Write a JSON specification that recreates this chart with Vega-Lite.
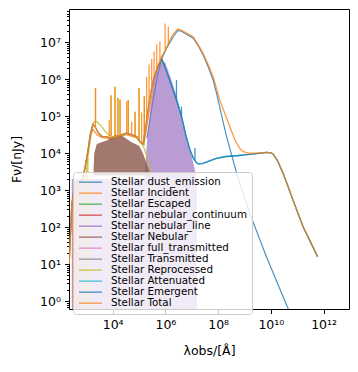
{
  "$schema": "https://vega.github.io/schema/vega-lite/v6.json",
  "width": 280,
  "height": 300,
  "autosize": {"type": "none"},
  "padding": {"left": 69, "top": 9, "right": 9, "bottom": 63},
  "background": "white",
  "datasets": {
    "lines": [
      {"s":"Stellar dust_emission","x":199500,"y":25120},{"s":"Stellar dust_emission","x":316200,"y":199500},{"s":"Stellar dust_emission","x":501200,"y":1259000},{"s":"Stellar dust_emission","x":724400,"y":3548000},{"s":"Stellar dust_emission","x":1122000,"y":7079000},{"s":"Stellar dust_emission","x":1995000,"y":14130000},{"s":"Stellar dust_emission","x":2951000,"y":20890000},{"s":"Stellar dust_emission","x":3981000,"y":19950000},{"s":"Stellar dust_emission","x":6310000,"y":16600000},{"s":"Stellar dust_emission","x":11220000,"y":12880000},{"s":"Stellar dust_emission","x":17780000,"y":7943000},{"s":"Stellar dust_emission","x":26920000,"y":4571000},{"s":"Stellar dust_emission","x":41690000,"y":2188000},{"s":"Stellar dust_emission","x":64570000,"y":955000},{"s":"Stellar dust_emission","x":87100000,"y":416900},{"s":"Stellar dust_emission","x":199500000,"y":31620},{"s":"Stellar dust_emission","x":501200000,"y":2884},{"s":"Stellar dust_emission","x":1585000000,"y":234.4},{"s":"Stellar dust_emission","x":6761000000,"y":15.85},{"s":"Stellar dust_emission","x":44670000000,"y":0.631},{"s":"Stellar dust_emission","x":100000000000,"y":0.1585},

      {"s":"Stellar Incident","x":223.9,"y":10},{"s":"Stellar Incident","x":281.8,"y":398.1},{"s":"Stellar Incident","x":354.8,"y":1259},{"s":"Stellar Incident","x":501.2,"y":1585},{"s":"Stellar Incident","x":707.9,"y":1995},{"s":"Stellar Incident","x":891.3,"y":3981},{"s":"Stellar Incident","x":1122,"y":10000},{"s":"Stellar Incident","x":1413,"y":28180},{"s":"Stellar Incident","x":1778,"y":44670},{"s":"Stellar Incident","x":2512,"y":31620},{"s":"Stellar Incident","x":3981,"y":26300},{"s":"Stellar Incident","x":10000,"y":23990},{"s":"Stellar Incident","x":31620,"y":31620},{"s":"Stellar Incident","x":79430,"y":26300},{"s":"Stellar Incident","x":125900,"y":17780},{"s":"Stellar Incident","x":158500,"y":19950},{"s":"Stellar Incident","x":251200,"y":158500},{"s":"Stellar Incident","x":398100,"y":1259000},{"s":"Stellar Incident","x":724400,"y":3548000},{"s":"Stellar Incident","x":955000,"y":2239000},

      {"s":"Stellar Reprocessed","x":794.3,"y":1259},{"s":"Stellar Reprocessed","x":1000,"y":3162},{"s":"Stellar Reprocessed","x":1259,"y":12590},{"s":"Stellar Reprocessed","x":1585,"y":39810},{"s":"Stellar Reprocessed","x":1995,"y":70790},{"s":"Stellar Reprocessed","x":2512,"y":70790},{"s":"Stellar Reprocessed","x":3548,"y":56230},{"s":"Stellar Reprocessed","x":5012,"y":39810},{"s":"Stellar Reprocessed","x":7079,"y":31620},{"s":"Stellar Reprocessed","x":10000,"y":28180},{"s":"Stellar Reprocessed","x":14130,"y":26920},{"s":"Stellar Reprocessed","x":22390,"y":31620},{"s":"Stellar Reprocessed","x":33880,"y":34670},{"s":"Stellar Reprocessed","x":50120,"y":31620},{"s":"Stellar Reprocessed","x":81280,"y":28180},{"s":"Stellar Reprocessed","x":112200,"y":19950},{"s":"Stellar Reprocessed","x":144500,"y":15850},{"s":"Stellar Reprocessed","x":199500,"y":7943},{"s":"Stellar Reprocessed","x":316200,"y":1995},{"s":"Stellar Reprocessed","x":467700,"y":631},{"s":"Stellar Reprocessed","x":631000,"y":63.1},{"s":"Stellar Reprocessed","x":758600,"y":0.3162},

      {"s":"Stellar Attenuated","x":724400,"y":3548000},{"s":"Stellar Attenuated","x":1000000,"y":1995000},{"s":"Stellar Attenuated","x":1585000,"y":794300},{"s":"Stellar Attenuated","x":2630000,"y":275400},{"s":"Stellar Attenuated","x":4074000,"y":100000},{"s":"Stellar Attenuated","x":5623000,"y":35480},{"s":"Stellar Attenuated","x":8511000,"y":12300},{"s":"Stellar Attenuated","x":11220000,"y":7586},{"s":"Stellar Attenuated","x":15140000,"y":5495},{"s":"Stellar Attenuated","x":17780000,"y":5129},{"s":"Stellar Attenuated","x":25120000,"y":5248},{"s":"Stellar Attenuated","x":50120000,"y":6310},{"s":"Stellar Attenuated","x":87100000,"y":7244},{"s":"Stellar Attenuated","x":199500000,"y":8128},{"s":"Stellar Attenuated","x":501200000,"y":8511},{"s":"Stellar Attenuated","x":1259000000,"y":9120},{"s":"Stellar Attenuated","x":2818000000,"y":9661},{"s":"Stellar Attenuated","x":5012000000,"y":10230},{"s":"Stellar Attenuated","x":6761000000,"y":10470},{"s":"Stellar Attenuated","x":10000000000,"y":10230},{"s":"Stellar Attenuated","x":12020000000,"y":9550},{"s":"Stellar Attenuated","x":17780000000,"y":6310},{"s":"Stellar Attenuated","x":28840000000,"y":2884},{"s":"Stellar Attenuated","x":44670000000,"y":1259},{"s":"Stellar Attenuated","x":69180000000,"y":537},{"s":"Stellar Attenuated","x":107200000000,"y":234.4},{"s":"Stellar Attenuated","x":166000000000,"y":102.3},{"s":"Stellar Attenuated","x":316200000000,"y":39.81},{"s":"Stellar Attenuated","x":588800000000,"y":15.85},

      {"s":"Stellar Emergent","x":223.9,"y":10},{"s":"Stellar Emergent","x":281.8,"y":398.1},{"s":"Stellar Emergent","x":354.8,"y":1259},{"s":"Stellar Emergent","x":501.2,"y":1585},{"s":"Stellar Emergent","x":707.9,"y":1995},{"s":"Stellar Emergent","x":891.3,"y":3981},{"s":"Stellar Emergent","x":1122,"y":10000},{"s":"Stellar Emergent","x":1413,"y":31620},{"s":"Stellar Emergent","x":1778,"y":60260},{"s":"Stellar Emergent","x":2239,"y":50120},{"s":"Stellar Emergent","x":2818,"y":35480},{"s":"Stellar Emergent","x":3981,"y":28180},{"s":"Stellar Emergent","x":5888,"y":28180},{"s":"Stellar Emergent","x":8913,"y":25120},{"s":"Stellar Emergent","x":14130,"y":26300},{"s":"Stellar Emergent","x":22390,"y":31620},{"s":"Stellar Emergent","x":33880,"y":34670},{"s":"Stellar Emergent","x":50120,"y":31620},{"s":"Stellar Emergent","x":81280,"y":28180},{"s":"Stellar Emergent","x":112200,"y":19950},{"s":"Stellar Emergent","x":144500,"y":17780},{"s":"Stellar Emergent","x":177800,"y":50120},{"s":"Stellar Emergent","x":223900,"y":158500},{"s":"Stellar Emergent","x":281800,"y":446700},{"s":"Stellar Emergent","x":354800,"y":1000000},{"s":"Stellar Emergent","x":501200,"y":1995000},{"s":"Stellar Emergent","x":724400,"y":3548000},{"s":"Stellar Emergent","x":1000000,"y":1995000},{"s":"Stellar Emergent","x":1585000,"y":794300},{"s":"Stellar Emergent","x":2630000,"y":275400},{"s":"Stellar Emergent","x":4074000,"y":100000},{"s":"Stellar Emergent","x":5623000,"y":35480},{"s":"Stellar Emergent","x":8511000,"y":12300},{"s":"Stellar Emergent","x":11220000,"y":7586},{"s":"Stellar Emergent","x":15140000,"y":5495},{"s":"Stellar Emergent","x":17780000,"y":5129},{"s":"Stellar Emergent","x":25120000,"y":5248},{"s":"Stellar Emergent","x":50120000,"y":6310},{"s":"Stellar Emergent","x":87100000,"y":7244},{"s":"Stellar Emergent","x":199500000,"y":8128},{"s":"Stellar Emergent","x":501200000,"y":8511},{"s":"Stellar Emergent","x":1259000000,"y":9120},{"s":"Stellar Emergent","x":2818000000,"y":9661},{"s":"Stellar Emergent","x":5012000000,"y":10230},{"s":"Stellar Emergent","x":6761000000,"y":10470},{"s":"Stellar Emergent","x":10000000000,"y":10230},{"s":"Stellar Emergent","x":12020000000,"y":9550},{"s":"Stellar Emergent","x":17780000000,"y":6310},{"s":"Stellar Emergent","x":28840000000,"y":2884},{"s":"Stellar Emergent","x":44670000000,"y":1259},{"s":"Stellar Emergent","x":69180000000,"y":537},{"s":"Stellar Emergent","x":107200000000,"y":234.4},{"s":"Stellar Emergent","x":166000000000,"y":102.3},{"s":"Stellar Emergent","x":316200000000,"y":39.81},{"s":"Stellar Emergent","x":588800000000,"y":15.85},

      {"s":"Stellar Total","x":223.9,"y":10},{"s":"Stellar Total","x":281.8,"y":398.1},{"s":"Stellar Total","x":354.8,"y":1259},{"s":"Stellar Total","x":501.2,"y":1585},{"s":"Stellar Total","x":707.9,"y":1995},{"s":"Stellar Total","x":891.3,"y":3981},{"s":"Stellar Total","x":1122,"y":10000},{"s":"Stellar Total","x":1413,"y":31620},{"s":"Stellar Total","x":1778,"y":60260},{"s":"Stellar Total","x":2239,"y":50120},{"s":"Stellar Total","x":2818,"y":35480},{"s":"Stellar Total","x":3981,"y":28180},{"s":"Stellar Total","x":5888,"y":28180},{"s":"Stellar Total","x":8913,"y":25120},{"s":"Stellar Total","x":14130,"y":26300},{"s":"Stellar Total","x":22390,"y":31620},{"s":"Stellar Total","x":33880,"y":34670},{"s":"Stellar Total","x":50120,"y":31620},{"s":"Stellar Total","x":81280,"y":28180},{"s":"Stellar Total","x":112200,"y":19950},{"s":"Stellar Total","x":144500,"y":17780},{"s":"Stellar Total","x":177800,"y":50120},{"s":"Stellar Total","x":223900,"y":158500},{"s":"Stellar Total","x":281800,"y":446700},{"s":"Stellar Total","x":354800,"y":1000000},{"s":"Stellar Total","x":501200,"y":2239000},{"s":"Stellar Total","x":724400,"y":4169000},{"s":"Stellar Total","x":1000000,"y":6026000},{"s":"Stellar Total","x":1259000,"y":8913000},{"s":"Stellar Total","x":1585000,"y":12590000},{"s":"Stellar Total","x":1995000,"y":16600000},{"s":"Stellar Total","x":2951000,"y":22910000},{"s":"Stellar Total","x":3981000,"y":21380000},{"s":"Stellar Total","x":6310000,"y":17780000},{"s":"Stellar Total","x":11220000,"y":14130000},{"s":"Stellar Total","x":17780000,"y":8511000},{"s":"Stellar Total","x":26920000,"y":5012000},{"s":"Stellar Total","x":41690000,"y":2512000},{"s":"Stellar Total","x":64570000,"y":1175000},{"s":"Stellar Total","x":114800000,"y":275400},{"s":"Stellar Total","x":177800000,"y":120200},{"s":"Stellar Total","x":275400000,"y":52480},{"s":"Stellar Total","x":380200000,"y":28840},{"s":"Stellar Total","x":501200000,"y":18620},{"s":"Stellar Total","x":676100000,"y":13180},{"s":"Stellar Total","x":891300000,"y":10960},{"s":"Stellar Total","x":1413000000,"y":10000},{"s":"Stellar Total","x":2138000000,"y":10000},{"s":"Stellar Total","x":3981000000,"y":10230},{"s":"Stellar Total","x":6761000000,"y":10470},{"s":"Stellar Total","x":10000000000,"y":10230},{"s":"Stellar Total","x":12020000000,"y":9550},{"s":"Stellar Total","x":17780000000,"y":6310},{"s":"Stellar Total","x":28840000000,"y":2884},{"s":"Stellar Total","x":44670000000,"y":1259},{"s":"Stellar Total","x":69180000000,"y":537},{"s":"Stellar Total","x":107200000000,"y":234.4},{"s":"Stellar Total","x":166000000000,"y":102.3},{"s":"Stellar Total","x":316200000000,"y":39.81},{"s":"Stellar Total","x":588800000000,"y":15.85}
    ],
    "spikes": [
      {"s":"Stellar Reprocessed","x":977.2,"y":0.1,"y2":2884},{"s":"Stellar Reprocessed","x":1148,"y":0.1,"y2":7244},
      {"s":"Stellar Reprocessed","x":2239,"y":70790,"y2":575400},{"s":"Stellar Reprocessed","x":8710,"y":31620,"y2":371500},{"s":"Stellar Reprocessed","x":12300,"y":28180,"y2":631000},{"s":"Stellar Reprocessed","x":15850,"y":26920,"y2":316200},{"s":"Stellar Reprocessed","x":19050,"y":29510,"y2":281800},{"s":"Stellar Reprocessed","x":38900,"y":34670,"y2":275400},{"s":"Stellar Reprocessed","x":70790,"y":28840,"y2":131800},{"s":"Stellar Reprocessed","x":100000,"y":23990,"y2":575400},{"s":"Stellar Reprocessed","x":158500,"y":15850,"y2":354800},
      {"s":"Stellar Emergent","x":2630000,"y":275400,"y2":955000},{"s":"Stellar Emergent","x":4074000,"y":100000,"y2":182000},{"s":"Stellar Emergent","x":13180000,"y":6310,"y2":13800},
      {"s":"Stellar Total","x":316.2,"y":0.1,"y2":708},{"s":"Stellar Total","x":407.4,"y":0.1,"y2":1380},{"s":"Stellar Total","x":575.4,"y":0.1,"y2":1862},
      {"s":"Stellar Total","x":2239,"y":50120,"y2":575400},{"s":"Stellar Total","x":7413,"y":28180,"y2":79430},{"s":"Stellar Total","x":8710,"y":25120,"y2":371500},{"s":"Stellar Total","x":12300,"y":25700,"y2":631000},{"s":"Stellar Total","x":15850,"y":27540,"y2":316200},{"s":"Stellar Total","x":19050,"y":29510,"y2":281800},{"s":"Stellar Total","x":33880,"y":34670,"y2":251200},{"s":"Stellar Total","x":38900,"y":34670,"y2":275400},{"s":"Stellar Total","x":52480,"y":31620,"y2":70790},{"s":"Stellar Total","x":70790,"y":28840,"y2":131800},{"s":"Stellar Total","x":100000,"y":23990,"y2":575400},{"s":"Stellar Total","x":125900,"y":18620,"y2":125900},{"s":"Stellar Total","x":158500,"y":26920,"y2":354800},{"s":"Stellar Total","x":195000,"y":79430,"y2":1175000},{"s":"Stellar Total","x":239900,"y":223900,"y2":2512000},{"s":"Stellar Total","x":302000,"y":575400,"y2":3548000},{"s":"Stellar Total","x":371500,"y":1122000,"y2":5623000},{"s":"Stellar Total","x":467700,"y":1905000,"y2":8913000},{"s":"Stellar Total","x":616600,"y":3020000,"y2":10470000},{"s":"Stellar Total","x":977200,"y":5888000,"y2":32360000},{"s":"Stellar Total","x":1288000,"y":8913000,"y2":26300000}
    ],
    "fills": [
      {"s":"Stellar nebular_line","x":281.8,"y":1995},{"s":"Stellar nebular_line","x":158500,"y":1995},{"s":"Stellar nebular_line","x":199500,"y":19950},{"s":"Stellar nebular_line","x":281800,"y":199500},{"s":"Stellar nebular_line","x":398100,"y":1175000},{"s":"Stellar nebular_line","x":562300,"y":1995000},{"s":"Stellar nebular_line","x":724400,"y":3020000},{"s":"Stellar nebular_line","x":1000000,"y":2818000},{"s":"Stellar nebular_line","x":1122000,"y":2188000},{"s":"Stellar nebular_line","x":1585000,"y":1122000},{"s":"Stellar nebular_line","x":2512000,"y":398100},{"s":"Stellar nebular_line","x":3548000,"y":158500},{"s":"Stellar nebular_line","x":5012000,"y":63100},{"s":"Stellar nebular_line","x":7079000,"y":19950},{"s":"Stellar nebular_line","x":10000000,"y":7943},{"s":"Stellar nebular_line","x":12590000,"y":3981},{"s":"Stellar nebular_line","x":15490000,"y":1995},{"s":"Stellar nebular_line","x":15850000,"y":0.1},
      {"s":"Stellar Nebular","x":1862,"y":2512},{"s":"Stellar Nebular","x":1995,"y":10000},{"s":"Stellar Nebular","x":2512,"y":17780},{"s":"Stellar Nebular","x":3981,"y":19950},{"s":"Stellar Nebular","x":6310,"y":22390},{"s":"Stellar Nebular","x":12590,"y":31620},{"s":"Stellar Nebular","x":25120,"y":28180},{"s":"Stellar Nebular","x":50120,"y":19950},{"s":"Stellar Nebular","x":100000,"y":15850},{"s":"Stellar Nebular","x":141300,"y":10000},{"s":"Stellar Nebular","x":251200,"y":3162},{"s":"Stellar Nebular","x":316200,"y":2512}
    ]
  },
  "encoding": {
    "x": {
      "field": "x", "type": "quantitative",
      "scale": {"type": "log", "domain": [221, 9160000000000], "nice": false},
      "axis": {
        "values": [10000, 1000000, 100000000, 10000000000, 1000000000000],
        "labelExpr": "'10' + (datum.value >= 1e10 ? '¹' + substring('⁰¹²³⁴⁵⁶⁷⁸⁹', round(log(datum.value)/LN10) - 10, round(log(datum.value)/LN10) - 9) : substring('⁰¹²³⁴⁵⁶⁷⁸⁹', round(log(datum.value)/LN10), round(log(datum.value)/LN10) + 1))",
        "title": "λobs/[Å]",
        "tickSize": 4.5,
        "labelPadding": 5,
        "titlePadding": 13
      }
    },
    "y": {
      "field": "y", "type": "quantitative",
      "scale": {"type": "log", "domain": [0.608, 79600000], "nice": false},
      "axis": {
        "values": [0.7,0.8,0.9,1,2,3,4,5,6,7,8,9,10,20,30,40,50,60,70,80,90,100,200,300,400,500,600,700,800,900,1000,2000,3000,4000,5000,6000,7000,8000,9000,10000,20000,30000,40000,50000,60000,70000,80000,90000,100000,200000,300000,400000,500000,600000,700000,800000,900000,1000000,2000000,3000000,4000000,5000000,6000000,7000000,8000000,9000000,10000000,20000000,30000000,40000000,50000000,60000000,70000000],
        "labelExpr": "abs(log(datum.value)/LN10 - round(log(datum.value)/LN10)) > 0.01 ? '' : '10' + substring('⁰¹²³⁴⁵⁶⁷⁸⁹', round(log(datum.value)/LN10), round(log(datum.value)/LN10) + 1)",
        "tickSize": {"condition": {"test": "abs(log(datum.value)/LN10 - round(log(datum.value)/LN10)) > 0.01", "value": 2.5}, "value": 4.5},
        "title": "Fν/[nJy]",
        "labelPadding": 4,
        "titlePadding": 16
      }
    }
  },
  "layer": [
    {
      "data": {"name": "lines"},
      "transform": [{"filter": "datum.s === 'Stellar dust_emission'"}],
      "mark": {"type": "line", "strokeWidth": 1.2, "opacity": 0.8, "clip": true},
      "encoding": {"color": {"field": "s", "type": "nominal", "scale": {"domain": ["Stellar dust_emission","Stellar Incident","Stellar Escaped","Stellar nebular_continuum","Stellar nebular_line","Stellar Nebular","Stellar full_transmitted","Stellar Transmitted","Stellar Reprocessed","Stellar Attenuated","Stellar Emergent","Stellar Total"], "range": ["#1f77b4","#ff7f0e","#2ca02c","#d62728","#9467bd","#8c564b","#e377c2","#7f7f7f","#bcbd22","#17becf","#1f77b4","#ff7f0e"]}, "legend": {"title": null}}}
    },
    {
      "data": {"name": "lines"},
      "transform": [{"filter": "datum.s === 'Stellar Incident'"}],
      "mark": {"type": "line", "strokeWidth": 1.3, "opacity": 0.8, "clip": true},
      "encoding": {"color": {"field": "s", "type": "nominal", "scale": {"domain": ["Stellar dust_emission","Stellar Incident","Stellar Escaped","Stellar nebular_continuum","Stellar nebular_line","Stellar Nebular","Stellar full_transmitted","Stellar Transmitted","Stellar Reprocessed","Stellar Attenuated","Stellar Emergent","Stellar Total"], "range": ["#1f77b4","#ff7f0e","#2ca02c","#d62728","#9467bd","#8c564b","#e377c2","#7f7f7f","#bcbd22","#17becf","#1f77b4","#ff7f0e"]}, "legend": {"title": null}}}
    },
    {
      "data": {"name": "fills"},
      "transform": [{"filter": "datum.s === 'Stellar nebular_line'"}],
      "mark": {"type": "area", "color": "#9467bd", "opacity": 0.65, "clip": true},
      "encoding": {"y2": {"datum": 0.01}}
    },
    {
      "data": {"name": "fills"},
      "transform": [{"filter": "datum.s === 'Stellar Nebular'"}],
      "mark": {"type": "area", "color": "#8c564b", "opacity": 0.8, "clip": true},
      "encoding": {"y2": {"datum": 2500}}
    },
    {
      "data": {"name": "spikes"},
      "transform": [{"filter": "datum.s === 'Stellar Reprocessed'"}],
      "mark": {"type": "rule", "color": "#bcbd22", "strokeWidth": 1.3, "opacity": 0.8, "clip": true},
      "encoding": {"y2": {"field": "y2"}}
    },
    {
      "data": {"name": "lines"},
      "transform": [{"filter": "datum.s === 'Stellar Reprocessed'"}],
      "mark": {"type": "line", "strokeWidth": 1.3, "opacity": 0.8, "clip": true},
      "encoding": {"color": {"field": "s", "type": "nominal", "scale": {"domain": ["Stellar dust_emission","Stellar Incident","Stellar Escaped","Stellar nebular_continuum","Stellar nebular_line","Stellar Nebular","Stellar full_transmitted","Stellar Transmitted","Stellar Reprocessed","Stellar Attenuated","Stellar Emergent","Stellar Total"], "range": ["#1f77b4","#ff7f0e","#2ca02c","#d62728","#9467bd","#8c564b","#e377c2","#7f7f7f","#bcbd22","#17becf","#1f77b4","#ff7f0e"]}, "legend": {"title": null}}}
    },
    {
      "data": {"name": "lines"},
      "transform": [{"filter": "datum.s === 'Stellar Attenuated'"}],
      "mark": {"type": "line", "strokeWidth": 1.3, "opacity": 0.8, "clip": true},
      "encoding": {"color": {"field": "s", "type": "nominal", "scale": {"domain": ["Stellar dust_emission","Stellar Incident","Stellar Escaped","Stellar nebular_continuum","Stellar nebular_line","Stellar Nebular","Stellar full_transmitted","Stellar Transmitted","Stellar Reprocessed","Stellar Attenuated","Stellar Emergent","Stellar Total"], "range": ["#1f77b4","#ff7f0e","#2ca02c","#d62728","#9467bd","#8c564b","#e377c2","#7f7f7f","#bcbd22","#17becf","#1f77b4","#ff7f0e"]}, "legend": {"title": null}}}
    },
    {
      "data": {"name": "lines"},
      "transform": [{"filter": "datum.s === 'Stellar Emergent'"}],
      "mark": {"type": "line", "strokeWidth": 1.3, "opacity": 0.8, "clip": true},
      "encoding": {"color": {"field": "s", "type": "nominal", "scale": {"domain": ["Stellar dust_emission","Stellar Incident","Stellar Escaped","Stellar nebular_continuum","Stellar nebular_line","Stellar Nebular","Stellar full_transmitted","Stellar Transmitted","Stellar Reprocessed","Stellar Attenuated","Stellar Emergent","Stellar Total"], "range": ["#1f77b4","#ff7f0e","#2ca02c","#d62728","#9467bd","#8c564b","#e377c2","#7f7f7f","#bcbd22","#17becf","#1f77b4","#ff7f0e"]}, "legend": {"title": null}}}
    },
    {
      "data": {"name": "spikes"},
      "transform": [{"filter": "datum.s === 'Stellar Emergent'"}],
      "mark": {"type": "rule", "color": "#1f77b4", "strokeWidth": 1.3, "opacity": 0.8, "clip": true},
      "encoding": {"y2": {"field": "y2"}}
    },
    {
      "data": {"name": "lines"},
      "transform": [{"filter": "datum.s === 'Stellar Total'"}],
      "mark": {"type": "line", "strokeWidth": 1.3, "opacity": 0.8, "clip": true},
      "encoding": {"color": {"field": "s", "type": "nominal", "scale": {"domain": ["Stellar dust_emission","Stellar Incident","Stellar Escaped","Stellar nebular_continuum","Stellar nebular_line","Stellar Nebular","Stellar full_transmitted","Stellar Transmitted","Stellar Reprocessed","Stellar Attenuated","Stellar Emergent","Stellar Total"], "range": ["#1f77b4","#ff7f0e","#2ca02c","#d62728","#9467bd","#8c564b","#e377c2","#7f7f7f","#bcbd22","#17becf","#1f77b4","#ff7f0e"]}, "legend": {"title": null}}}
    },
    {
      "data": {"name": "spikes"},
      "transform": [{"filter": "datum.s === 'Stellar Total'"}],
      "mark": {"type": "rule", "color": "#ff7f0e", "strokeWidth": 1.3, "opacity": 0.8, "clip": true},
      "encoding": {"y2": {"field": "y2"}}
    }
  ],
  "config": {
    "font": "DejaVu Sans",
    "view": {"stroke": "#000000", "strokeWidth": 1},
    "axis": {
      "grid": false, "domain": false, "tickColor": "#000000", "tickWidth": 1,
      "labelColor": "#000000", "titleColor": "#000000",
      "labelFont": "DejaVu Sans", "titleFont": "DejaVu Sans",
      "labelFontSize": 12.5, "titleFontSize": 12.5, "titleFontWeight": "normal",
      "labelFlush": false, "labelOverlap": false
    },
    "legend": {
      "orient": "none", "legendX": 4, "legendY": 163,
      "symbolType": "stroke", "symbolSize": 529, "symbolStrokeWidth": 1.3,
      "labelFont": "DejaVu Sans", "labelFontSize": 10.3, "labelColor": "#000000",
      "labelOffset": 8, "rowPadding": -1.03, "padding": 5, "clipHeight": 10.3, "labelLimit": 300,
      "fillColor": "rgba(255,255,255,0.8)", "strokeColor": "#cccccc", "cornerRadius": 3
    }
  }
}
